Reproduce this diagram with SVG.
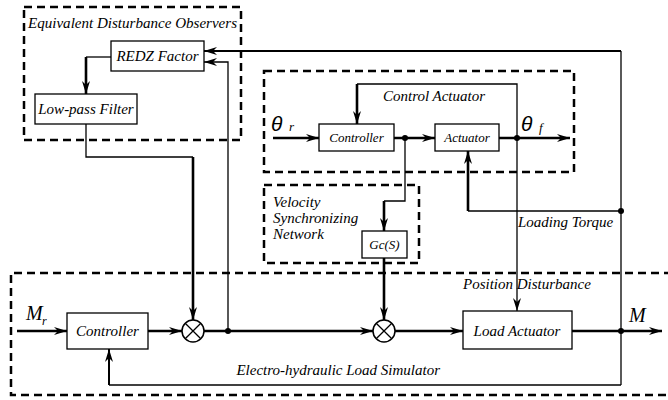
<svg xmlns="http://www.w3.org/2000/svg" width="668" height="400" viewBox="0 0 668 400">
<style>
.dash{fill:none;stroke:#000;stroke-width:2.5;stroke-dasharray:8,5}
.box{fill:#fff;stroke:#000;stroke-width:1.3}
.t{font-family:'Liberation Serif','Times New Roman','DejaVu Serif',serif;font-style:italic;fill:#000}
.thin{fill:none;stroke:#000;stroke-width:1.3}
.thick{fill:none;stroke:#000;stroke-width:2.6}
.med{fill:none;stroke:#000;stroke-width:2}
.sum{fill:#fff;stroke:#000;stroke-width:1.5}
</style>
<defs>
<marker id="ah" markerWidth="14" markerHeight="10" refX="13" refY="5" orient="auto" markerUnits="userSpaceOnUse">
<path d="M0,1 L13,5 L0,9 L4,5 z" fill="#000"/>
</marker>
</defs>
<rect width="668" height="400" fill="#fff"/>

<g id="edo-group">
<rect class="dash" x="24" y="7" width="217" height="133"/>
<text class="t" x="28" y="28" font-size="15" textLength="209" lengthAdjust="spacingAndGlyphs">Equivalent Disturbance Observers</text>
</g>
<g id="control-actuator-group">
<rect class="dash" x="264" y="71" width="310" height="101"/>
<text class="t" x="434" y="101" font-size="15" text-anchor="middle">Control Actuator</text>
</g>
<g id="velocity-group">
<rect class="dash" x="264" y="185" width="155" height="78"/>
<text class="t" x="273" y="207" font-size="15">Velocity</text>
<text class="t" x="273" y="223" font-size="15">Synchronizing</text>
<text class="t" x="273" y="239" font-size="15">Network</text>
</g>
<g id="simulator-group">
<path class="dash" d="M672,273 H11 V395 H672"/>
<text class="t" x="463" y="289" font-size="15">Position Disturbance</text>
<text class="t" x="440" y="375" font-size="15" text-anchor="end">Electro-hydraulic Load Simulator</text>
</g>

<g id="connectors">
<path class="thick" d="M273,138 H319" marker-end="url(#ah)"/>
<path class="thick" d="M394,138 H435" marker-end="url(#ah)"/>
<path class="thick" d="M499,138 H570" marker-end="url(#ah)"/>
<path class="thin" d="M517,138 V84 H357"/>
<path class="thick" d="M357,84 V124" marker-end="url(#ah)"/>
<path class="thin" d="M405,138 V201 H384"/>
<path class="thick" d="M384,201 V231" marker-end="url(#ah)"/>
<path class="thick" d="M384,258 V320" marker-end="url(#ah)"/>
<path class="thin" d="M621,211 H468"/>
<path class="thick" d="M468,211 V151" marker-end="url(#ah)"/>
<path class="thin" d="M621,51 V385"/>
<path class="med" d="M621,51 H204" marker-end="url(#ah)"/>
<path class="thin" d="M621,385 H109"/>
<path class="med" d="M109,385 V349" marker-end="url(#ah)"/>
<path class="thick" d="M572,331 H662" marker-end="url(#ah)"/>
<path class="thin" d="M517,138 V311" marker-end="url(#ah)"/>
<path class="thick" d="M395,331 H463" marker-end="url(#ah)"/>
<path class="thick" d="M204,331 H373" marker-end="url(#ah)"/>
<path class="thin" d="M228,331 V62 H204" marker-end="url(#ah)"/>
<path class="thick" d="M148,331 H182" marker-end="url(#ah)"/>
<path class="thick" d="M17,331 H67" marker-end="url(#ah)"/>
<path class="thin" d="M86,124 V157 H193"/>
<path class="thick" d="M193,157 V320" marker-end="url(#ah)"/>
<path class="thin" d="M111,57 H86"/>
<path class="thick" d="M86,57 V94" marker-end="url(#ah)"/>
<circle cx="405" cy="138" r="3"/>
<circle cx="517" cy="138" r="3"/>
<circle cx="621" cy="211" r="3"/>
<circle cx="621" cy="331" r="3"/>
<circle cx="228" cy="331" r="3"/>
</g>

<g id="redz">
<rect class="box" x="111" y="41" width="93" height="30"/>
<text class="t" x="157.5" y="61" font-size="15" text-anchor="middle">REDZ Factor</text>
</g>
<g id="lowpass">
<rect class="box" x="35" y="94" width="102" height="30"/>
<text class="t" x="86" y="114" font-size="15" text-anchor="middle">Low-pass Filter</text>
</g>
<g id="controller-top">
<rect class="box" x="319" y="124" width="75" height="27"/>
<text class="t" x="356.5" y="142" font-size="13" text-anchor="middle">Controller</text>
</g>
<g id="actuator">
<rect class="box" x="435" y="124" width="64" height="27"/>
<text class="t" x="467" y="142" font-size="13" text-anchor="middle">Actuator</text>
</g>
<g id="gcs">
<rect class="box" x="362" y="231" width="45" height="27"/>
<text class="t" x="384.5" y="249" font-size="13" text-anchor="middle">Gc(S)</text>
</g>
<g id="controller-bottom">
<rect class="box" x="67" y="313" width="81" height="36"/>
<text class="t" x="107.5" y="336" font-size="15" text-anchor="middle">Controller</text>
</g>
<g id="load-actuator">
<rect class="box" x="463" y="311" width="109" height="38"/>
<text class="t" x="517" y="336" font-size="15" text-anchor="middle">Load Actuator</text>
</g>
<g id="sum1">
<circle class="sum" cx="193" cy="331" r="11"/>
<path class="thin" d="M185.2,323.2 L200.8,338.8 M200.8,323.2 L185.2,338.8"/>
</g>
<g id="sum2">
<circle class="sum" cx="384" cy="331" r="11"/>
<path class="thin" d="M376.2,323.2 L391.8,338.8 M391.8,323.2 L376.2,338.8"/>
</g>
<g id="labels">
<text x="271" y="131" font-family="'Liberation Sans',sans-serif" font-style="italic" font-size="21">θ</text>
<text class="t" x="289" y="131" font-size="13">r</text>
<text x="521" y="131" font-family="'Liberation Sans',sans-serif" font-style="italic" font-size="21">θ</text>
<text class="t" x="539" y="132" font-size="13">f</text>
<text class="t" x="26" y="320" font-size="20">M</text>
<text class="t" x="42" y="325" font-size="12">r</text>
<text class="t" x="629" y="322" font-size="20">M</text>
<text class="t" x="518" y="227" font-size="15">Loading Torque</text>
</g>
</svg>
